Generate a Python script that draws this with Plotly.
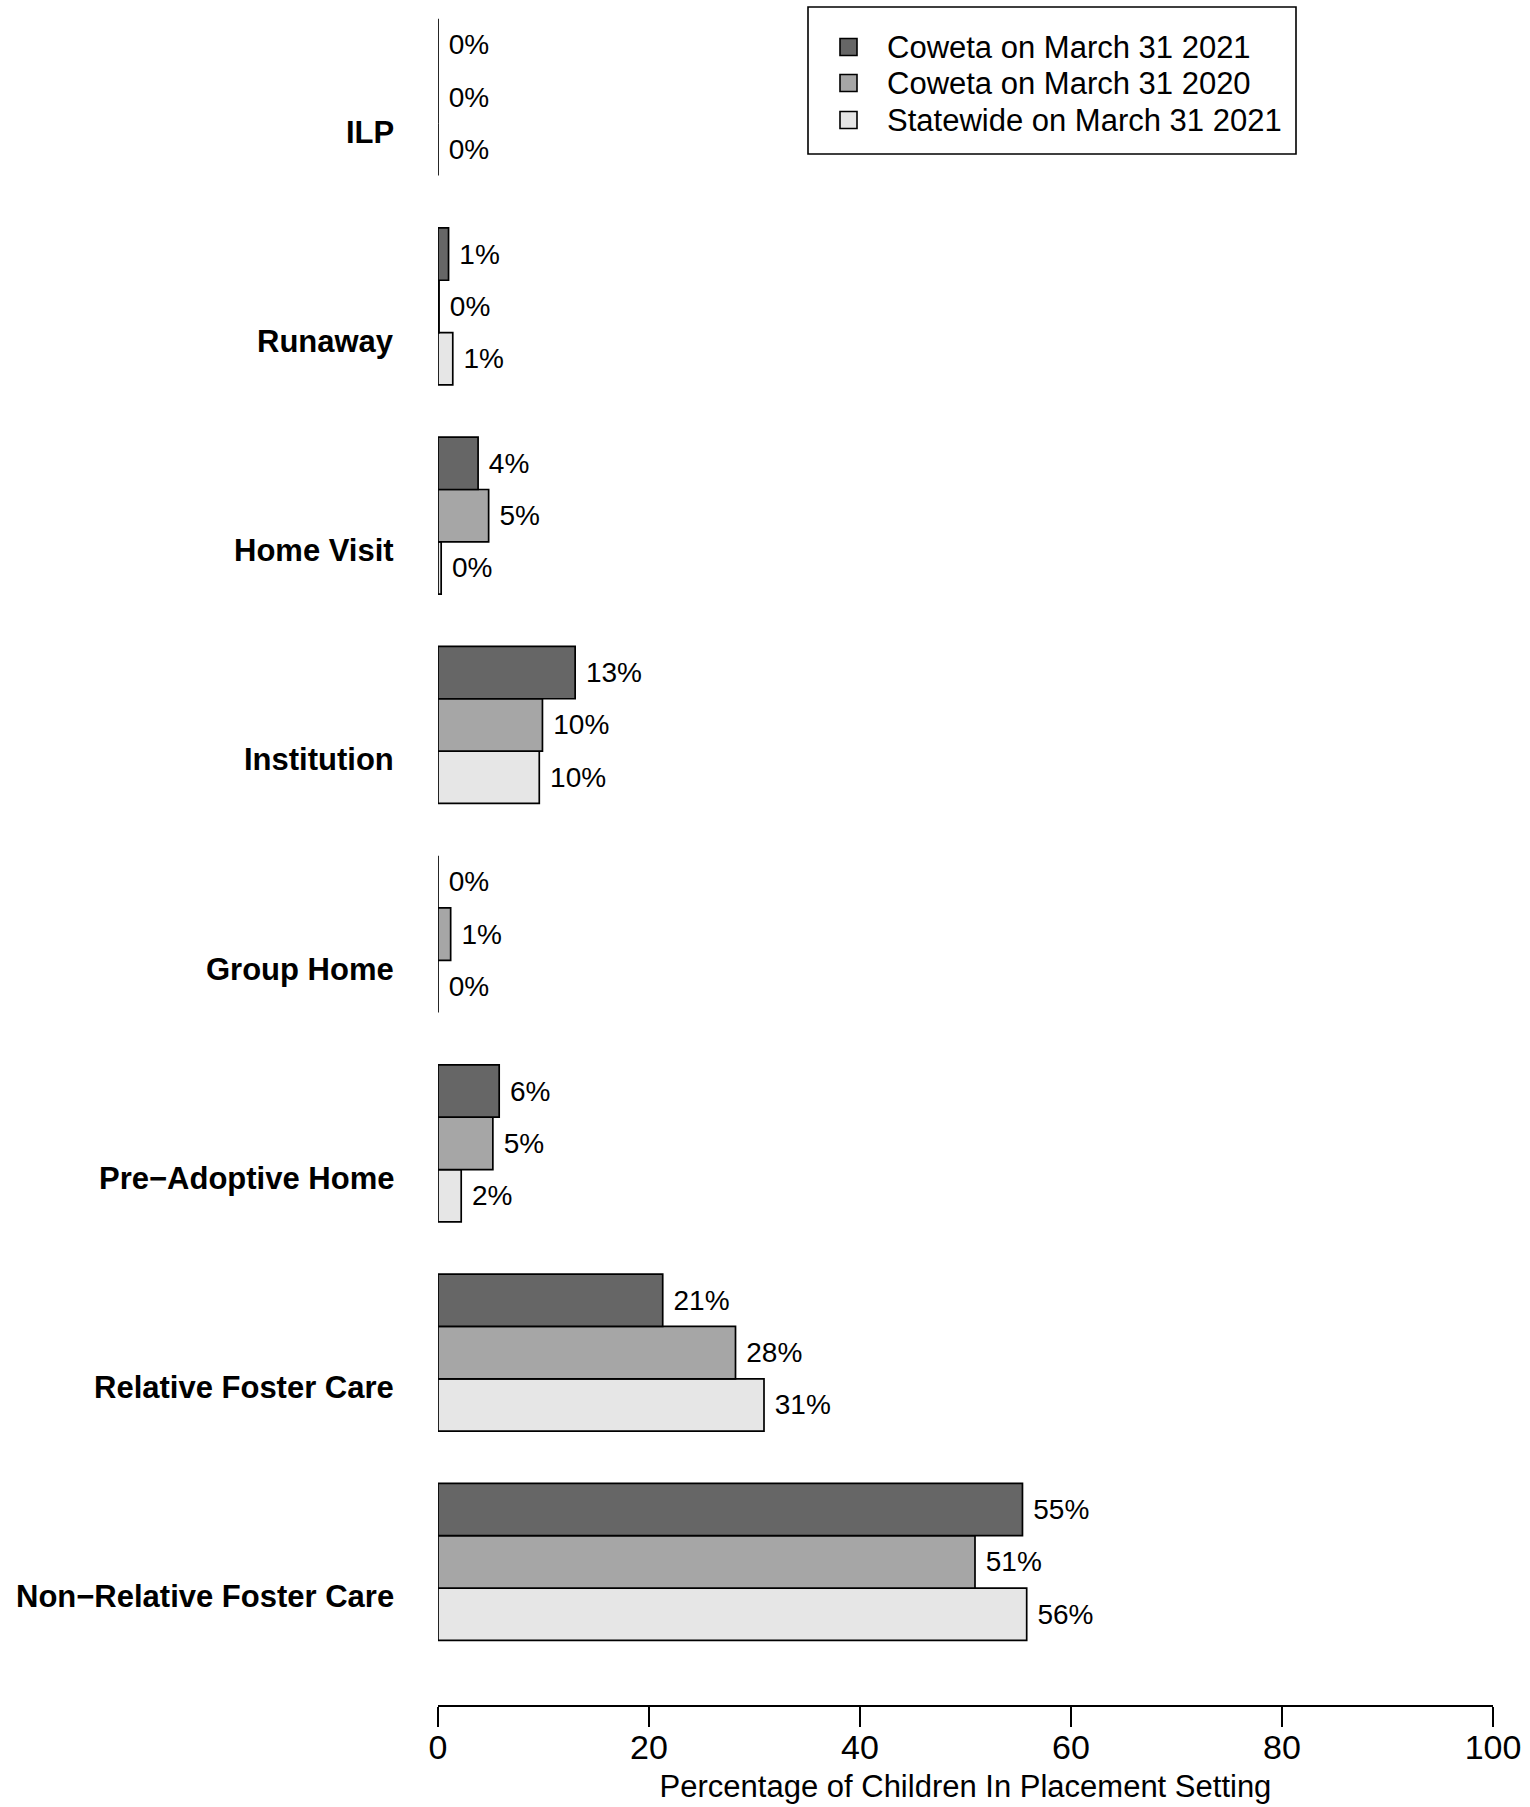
import plotly.graph_objects as go

categories = ["Non−Relative Foster Care", "Relative Foster Care", "Pre−Adoptive Home",
              "Group Home", "Institution", "Home Visit", "Runaway", "ILP"]
coweta_2021 = [55.4, 21.3, 5.8, 0.0, 13.0, 3.8, 1.0, 0.0]
coweta_2020 = [50.9, 28.2, 5.2, 1.2, 9.9, 4.8, 0.1, 0.0]
statewide_2021 = [55.8, 30.9, 2.2, 0.0, 9.6, 0.3, 1.4, 0.0]
series_names = ["Coweta on March 31 2021", "Coweta on March 31 2020", "Statewide on March 31 2021"]
series_colors = ["#666666", "#A6A6A6", "#E6E6E6"]
x_ticks = [0, 20, 40, 60, 80, 100]

FONT = "Liberation Sans, Arial, Helvetica, sans-serif"
W, H = 1530, 1807
ML, MR, MT, MB = 438, 37, 8, 102
PW, PH = W - ML - MR, H - MT - MB


def px2paper(px, py):
    return (px - ML) / PW, (H - MB - py) / PH


fig = go.Figure()
# bottom-to-top within each group: Statewide, 2020, 2021
for name, vals, col in reversed(list(zip(series_names, [coweta_2021, coweta_2020, statewide_2021], series_colors))):
    fig.add_trace(go.Bar(
        y=categories, x=vals, orientation="h", name=name,
        marker=dict(color=col, line=dict(color="black", width=1.7)),
        text=[f" {round(v)}%" for v in vals], textposition="outside",
        textfont=dict(family=FONT, size=28, color="black"),
        cliponaxis=False, showlegend=False,
    ))

# category labels (sit slightly below group centre, as in the original)
for c in categories:
    fig.add_annotation(
        xref="paper", yref="y", x=0, y=c, xanchor="right", yanchor="middle",
        xshift=-42, yshift=-35, showarrow=False, text=c,
        font=dict(family=FONT, size=31, color="black", weight="bold"),
    )

# legend box drawn R-style
x0, y0 = px2paper(808, 7)
x1, y1 = px2paper(1296, 154)
fig.add_shape(type="rect", xref="paper", yref="paper", x0=x0, y0=y1, x1=x1, y1=y0,
              line=dict(color="black", width=1.6), fillcolor="white", layer="above")
row_y = [47, 83, 120]
for name, col, ry in zip(series_names, series_colors, row_y):
    sx0, sy0 = px2paper(840, ry - 8.5)
    sx1, sy1 = px2paper(857, ry + 8.5)
    fig.add_shape(type="rect", xref="paper", yref="paper", x0=sx0, y0=sy1, x1=sx1, y1=sy0,
                  line=dict(color="black", width=1.6), fillcolor=col, layer="above")
    tx, ty = px2paper(885, ry)
    fig.add_annotation(xref="paper", yref="paper", x=tx, y=ty, xanchor="left", yanchor="middle",
                       showarrow=False, text=name,
                       font=dict(family=FONT, size=31, color="black"))

fig.update_layout(
    width=W, height=H,
    margin=dict(l=ML, r=MR, t=MT, b=MB),
    barmode="group", bargap=0.25, bargroupgap=0,
    plot_bgcolor="white", paper_bgcolor="white",
    font=dict(family=FONT, color="black"),
    showlegend=False,
    xaxis=dict(
        range=[0, 100], tickvals=x_ticks, ticktext=[str(t) for t in x_ticks],
        showgrid=False, zeroline=False, showline=True, linecolor="black", linewidth=1.6,
        ticks="outside", ticklen=20, tickwidth=1.6, tickcolor="black",
        ticklabelstandoff=-9,
        tickfont=dict(family=FONT, size=34, color="black"),
        title=dict(text="Percentage of Children In Placement Setting",
                   font=dict(family=FONT, size=31, color="black"), standoff=11),
        automargin=False,
    ),
    yaxis=dict(
        type="category", categoryorder="array", categoryarray=categories,
        range=[-0.684, 7.426],
        showgrid=False, zeroline=False, showline=False, ticks="",
        showticklabels=False, automargin=False,
    ),
)

fig.write_html("out.html", config={"displayModeBar": False},
               post_script="document.body.style.margin='0';document.body.style.padding='0';")
